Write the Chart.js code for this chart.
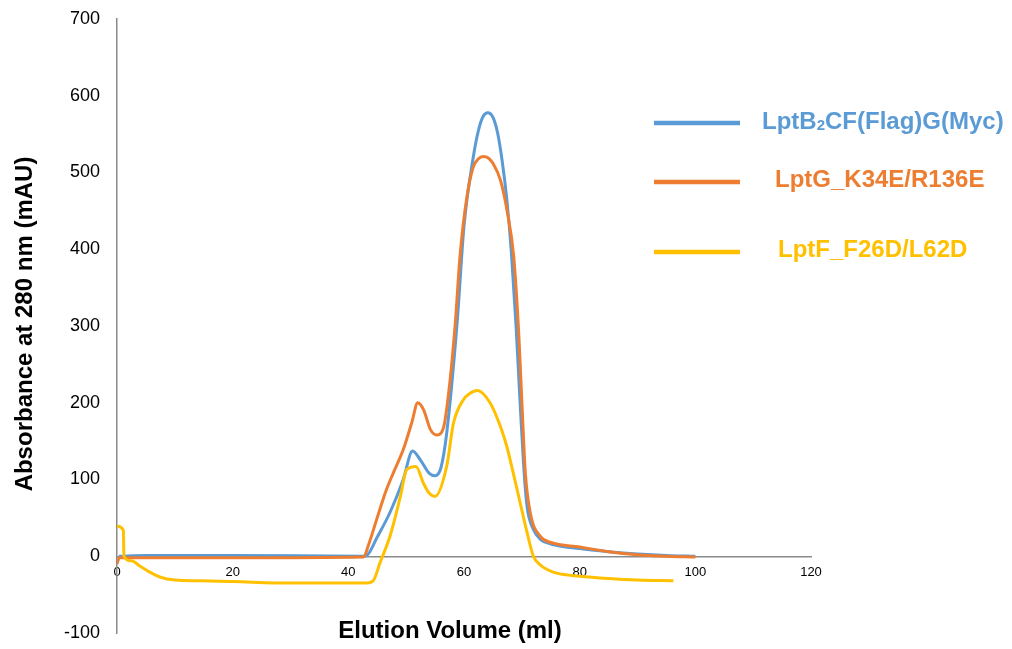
<!DOCTYPE html>
<html>
<head>
<meta charset="utf-8">
<script src="https://cdn.jsdelivr.net/npm/chart.js@4/dist/chart.umd.min.js"></script>
<style>
  html, body { margin: 0; padding: 0; background: #fff; }
  #wrap { width: 1012px; height: 649px; }
</style>
</head>
<body>
<div id="wrap"><canvas id="chart" width="1012" height="649"></canvas></div>
<script>
// elution volume (ml) and absorbance (mAU)
const wtVolume = [0.3, 5, 20, 42.5, 43.2, 45, 47.2, 49.5, 51.1, 52.5, 54, 55, 56, 57, 58.8, 60, 61.6, 62.5, 63.3, 64.1, 65, 65.8, 66.6, 67.4, 68.2, 69, 69.7, 70.3, 70.9, 72, 73.2, 75, 80, 85, 90, 95, 100];
const wtAbs = [0, 1, 1, 0, 1, 25, 57, 100, 137, 125, 108, 105, 115, 160, 303, 430, 520, 555, 573, 578, 572, 552, 515, 465, 395, 300, 200, 120, 65, 35, 22, 16, 10, 6, 3, 1, 0];

const lptgVolume = [0, 0.4, 5, 20, 42.6, 43.5, 44.9, 46.5, 47.8, 49.5, 51, 52, 53, 54.2, 55.3, 56.5, 57.6, 58.5, 59.3, 60.5, 61.6, 62.5, 63.3, 64.2, 65, 66.3, 67.5, 68.6, 69.5, 70.1, 70.6, 71.5, 73.2, 75, 80, 85, 90, 95, 100];
const lptgAbs = [-10, -2, -2, -2, -1, 15, 48, 85, 109, 139, 175, 200, 191, 165, 158, 169, 230, 304, 390, 468, 507, 518, 521, 519, 512, 490, 448, 390, 285, 185, 109, 55, 26, 18, 12, 6, 2, 0, -1];

const lptfVolume = [0, 1.1, 1.2, 2.5, 4, 5.5, 7.4, 10, 14.4, 20, 30, 40, 43.2, 44.3, 45.5, 47.2, 49, 50.1, 51.7, 53, 54, 55, 57, 58.2, 59.9, 61, 62.3, 64.5, 66.3, 67.4, 68.5, 69.7, 70.9, 72, 73, 74.3, 76, 80, 85, 90, 96.2];
const lptfAbs = [39, 34, 0, -6, -13, -20, -27, -31, -32, -33, -35, -35, -35, -32, -8, 26, 78, 113, 117, 95, 82, 78, 117, 174, 204, 212, 216, 200, 169, 143, 109, 70, 31, 0, -10, -17, -22, -26, -29, -31, -32];

const seriesNames = ["LptB2CF(Flag)G(Myc)", "LptG_K34E/R136E", "LptF_F26D/L62D"];
const seriesColors = ["#5B9BD5", "#ED7D31", "#FFC000"];

const xTicks = [0, 20, 40, 60, 80, 100, 120];
const yTicks = [-100, 0, 100, 200, 300, 400, 500, 600, 700];

const FONT = "'Liberation Sans', Arial, sans-serif";

function toPoints(xs, ys) {
  return xs.map((x, i) => ({ x: x, y: ys[i] }));
}

const datasets = [
  { label: seriesNames[0], data: toPoints(wtVolume, wtAbs), borderColor: seriesColors[0], order: 3 },
  { label: seriesNames[1], data: toPoints(lptgVolume, lptgAbs), borderColor: seriesColors[1], order: 2 },
  { label: seriesNames[2], data: toPoints(lptfVolume, lptfAbs), borderColor: seriesColors[2], order: 1 },
].map((d) => Object.assign(d, {
  showLine: true,
  borderWidth: 3,
  pointRadius: 0,
  cubicInterpolationMode: "monotone",
  backgroundColor: d.borderColor,
}));

// legend + axis titles drawn by hand so they sit where the original has them
const decorations = {
  id: "decorations",
  afterDraw(chart) {
    const ctx = chart.ctx;
    ctx.save();

    // legend
    const rows = [
      { y: 123, textX: 762, textY: 122 },
      { y: 182, textX: 775, textY: 180 },
      { y: 252, textX: 778, textY: 250 },
    ];
    rows.forEach((r, i) => {
      ctx.strokeStyle = seriesColors[i];
      ctx.lineWidth = 4.5;
      ctx.beginPath();
      ctx.moveTo(654, r.y);
      ctx.lineTo(740, r.y);
      ctx.stroke();

      ctx.fillStyle = seriesColors[i];
      ctx.textBaseline = "middle";
      ctx.textAlign = "left";
      if (i === 0) {
        // subscript 2 in LptB2
        ctx.font = "bold 24px " + FONT;
        let x = r.textX;
        ctx.fillText("LptB", x, r.textY);
        x += ctx.measureText("LptB").width;
        ctx.font = "bold 15px " + FONT;
        ctx.fillText("2", x, r.textY + 4);
        x += ctx.measureText("2").width;
        ctx.font = "bold 24px " + FONT;
        ctx.fillText("CF(Flag)G(Myc)", x, r.textY);
      } else {
        ctx.font = "bold 24px " + FONT;
        ctx.fillText(seriesNames[i], r.textX, r.textY);
      }
    });

    // axis titles
    ctx.fillStyle = "#000";
    ctx.font = "bold 24px " + FONT;
    ctx.textAlign = "center";
    ctx.textBaseline = "middle";
    ctx.fillText("Elution Volume (ml)", 450, 631);

    ctx.translate(25, 324);
    ctx.rotate(-Math.PI / 2);
    ctx.font = "bold 24px " + FONT;
    ctx.fillText("Absorbance at 280 nm (mAU)", 0, 0);
    ctx.restore();
  },
};

const chart = new Chart(document.getElementById("chart"), {
  type: "scatter",
  data: { datasets: datasets },
  options: {
    responsive: false,
    animation: false,
    layout: { padding: { left: 0, right: 201, top: 19, bottom: 16 } },
    plugins: {
      legend: { display: false },
      tooltip: { enabled: false },
    },
    scales: {
      x: {
        type: "linear",
        position: { y: 0 },
        min: xTicks[0],
        max: xTicks[xTicks.length - 1],
        afterBuildTicks: (scale) => { scale.ticks = xTicks.map((v) => ({ value: v })); },
        grid: { display: false, drawTicks: false },
        border: { display: true, color: "#8a8a8a", width: 1.5 },
        ticks: { color: "#000", padding: 8, font: { family: FONT, size: 13 } },
      },
      y: {
        type: "linear",
        min: yTicks[0],
        max: yTicks[yTicks.length - 1],
        afterBuildTicks: (scale) => { scale.ticks = yTicks.map((v) => ({ value: v })); },
        afterFit: (scale) => { scale.width = 117; },
        // tick marks are invisible, their length only pushes the labels left
        grid: { display: false, drawTicks: true, tickLength: 17, tickColor: "rgba(0,0,0,0)" },
        border: { display: true, color: "#8a8a8a", width: 1.5 },
        ticks: { color: "#000", padding: 0, font: { family: FONT, size: 18 } },
      },
    },
  },
  plugins: [decorations],
});
</script>
</body>
</html>
